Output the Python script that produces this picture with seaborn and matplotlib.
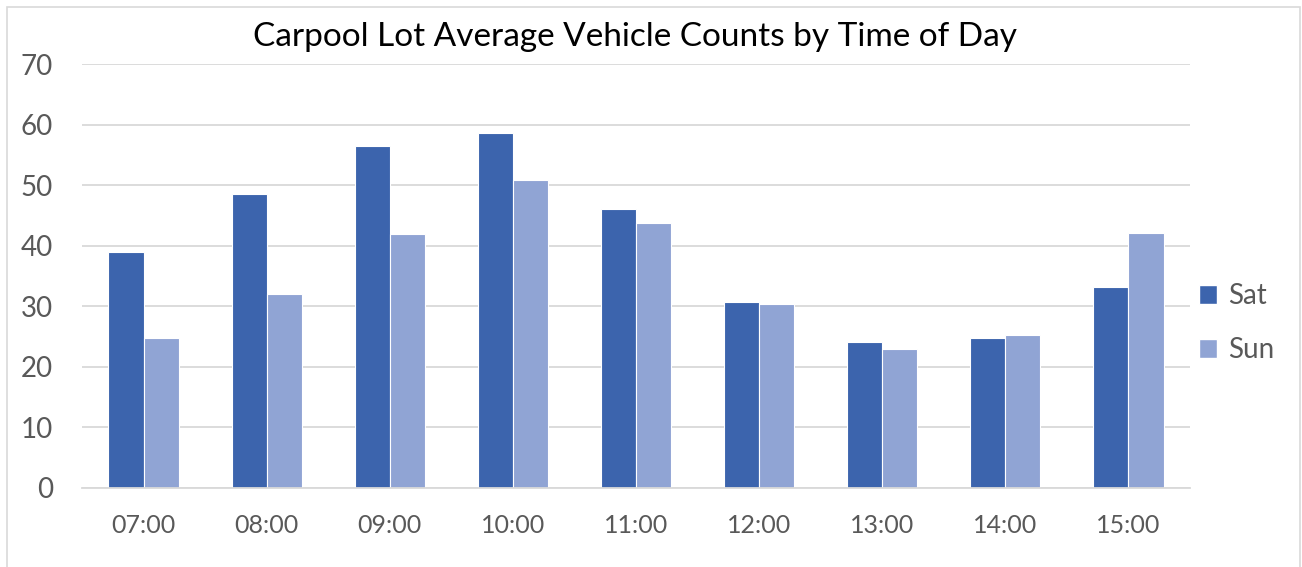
import matplotlib
matplotlib.use("Agg")
import matplotlib.pyplot as plt
import seaborn as sns
import pandas as pd
from matplotlib.patches import Rectangle

times = ["07:00", "08:00", "09:00", "10:00", "11:00", "12:00", "13:00", "14:00", "15:00"]
sat = [38.9, 48.6, 56.5, 58.6, 46.1, 30.7, 24.0, 24.8, 33.2]
sun = [24.7, 32.0, 41.9, 50.9, 43.8, 30.3, 22.9, 25.2, 42.0]
days = ["Sat", "Sun"]
yticks = [0, 10, 20, 30, 40, 50, 60, 70]

df = pd.DataFrame({
    "time": times * 2,
    "count": sat + sun,
    "day": [days[0]] * len(times) + [days[1]] * len(times),
})

sns.set_theme(style="white")
plt.rcParams["font.family"] = ["Lato", "DejaVu Sans"]

text_grey = "#595959"
palette = {"Sat": "#3C64AD", "Sun": "#90A4D4"}

fig = plt.figure(figsize=(13.02, 5.67), dpi=100)
ax = fig.add_axes([0.063, 0.140, 0.851, 0.747])

sns.barplot(data=df, x="time", y="count", hue="day", palette=palette,
            width=0.57, edgecolor="white", linewidth=0.8, ax=ax,
            legend=False, errorbar=None, saturation=1)

ax.set_ylim(0, 70)
ax.set_xlim(-0.5, len(times) - 0.5)
ax.set_yticks(yticks)
ax.yaxis.grid(True, color="#D9D9D9", linewidth=1.3)
ax.set_axisbelow(True)
for s in ["top", "right", "left"]:
    ax.spines[s].set_visible(False)
ax.spines["bottom"].set_color("#D9D9D9")
ax.spines["bottom"].set_linewidth(1.3)
ax.set_xlabel("")
ax.set_ylabel("")
ax.tick_params(axis="y", length=0, pad=21, labelsize=20, labelcolor=text_grey)
ax.tick_params(axis="x", length=0, pad=19, labelsize=18, labelcolor=text_grey)

fig.suptitle("Carpool Lot Average Vehicle Counts by Time of Day",
             x=0.488, y=0.962, fontsize=24, color="black")

handles = [Rectangle((0, 0), 1, 1, facecolor=palette[d]) for d in days]
fig.legend(handles, days, loc="center left", bbox_to_anchor=(0.921, 0.43),
           frameon=False, fontsize=20, labelcolor=text_grey,
           borderpad=0, borderaxespad=0,
           handlelength=0.65, handleheight=0.65, handletextpad=0.4,
           labelspacing=1.0)

# chart-area border
fig.add_artist(Rectangle((0.0054, -0.01), 0.993, 0.9977, transform=fig.transFigure,
                         fill=False, edgecolor="#D9D9D9", linewidth=1.2))

fig.savefig("out.png", dpi=100)
